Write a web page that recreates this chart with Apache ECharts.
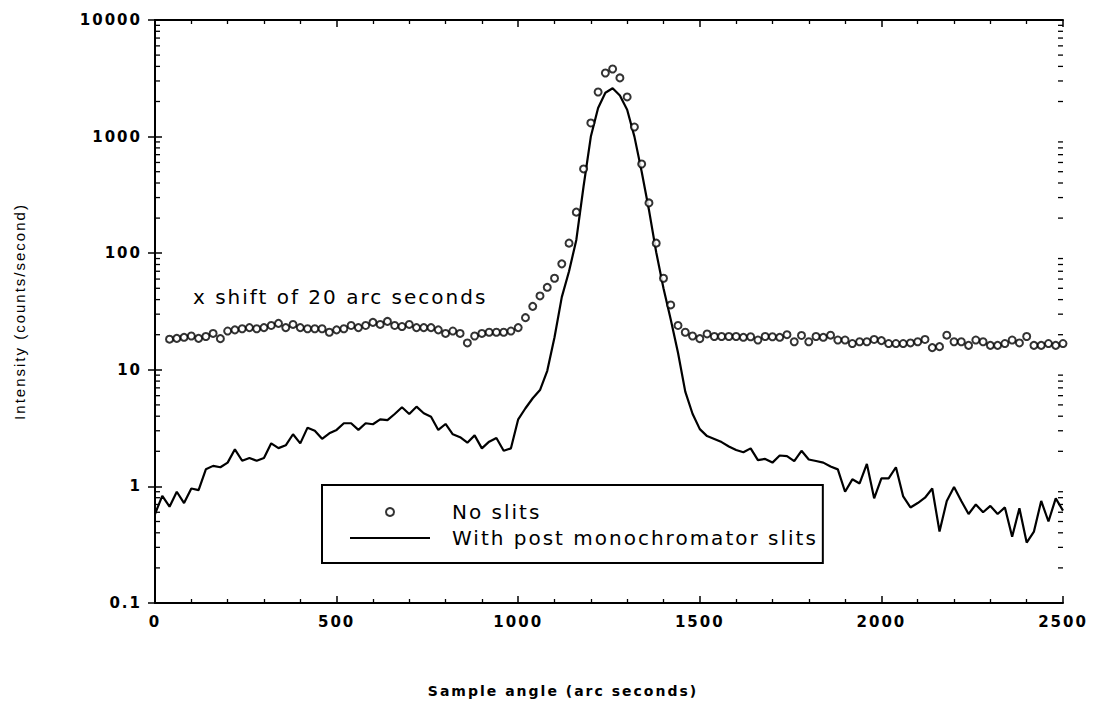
<!DOCTYPE html>
<html>
<head>
<meta charset="utf-8">
<title>Rocking curve with and without post monochromator slits</title>
<script src="https://cdn.jsdelivr.net/npm/echarts@6/dist/echarts.min.js"></script>
<style>
  html, body { margin: 0; padding: 0; background: #fff; }
  #chart { width: 1098px; height: 706px; }
  /* typewriter-style tracking for all chart text */
  #chart text { letter-spacing: 2px; }
</style>
</head>
<body>
<div id="chart"></div>
<script>
// Sample angles (arc seconds) for the open-beam scan (no slits)
const noSlitAngles = [
  40, 60, 80, 100, 120, 140, 160, 180, 200, 220, 240, 260, 280, 300, 320, 340, 360, 380, 400, 420,
  440, 460, 480, 500, 520, 540, 560, 580, 600, 620, 640, 660, 680, 700, 720, 740, 760, 780, 800, 820,
  840, 860, 880, 900, 920, 940, 960, 980, 1000, 1020, 1040, 1060, 1080, 1100, 1120, 1140, 1160, 1180, 1200, 1220,
  1240, 1260, 1280, 1300, 1320, 1340, 1360, 1380, 1400, 1420, 1440, 1460, 1480, 1500, 1520, 1540, 1560, 1580, 1600, 1620,
  1640, 1660, 1680, 1700, 1720, 1740, 1760, 1780, 1800, 1820, 1840, 1860, 1880, 1900, 1920, 1940, 1960, 1980, 2000, 2020,
  2040, 2060, 2080, 2100, 2120, 2140, 2160, 2180, 2200, 2220, 2240, 2260, 2280, 2300, 2320, 2340, 2360, 2380, 2400, 2420,
  2440, 2460, 2480, 2500
];
// Intensity (counts/second), no slits
const noSlitCounts = [
  18.3, 18.6, 19, 19.5, 18.6, 19.3, 20.5, 18.5, 21.5, 22, 22.5, 23, 22.5, 23, 24, 25, 23, 24.5, 23, 22.5,
  22.5, 22.5, 21, 22, 22.5, 24, 23, 24, 25.5, 24.5, 26, 24, 23.5, 24.5, 23, 23, 23, 22, 20.5, 21.5,
  20.5, 17, 19.5, 20.5, 21, 21, 21, 21.5, 23, 28, 35, 43, 51, 61, 81, 122, 225, 528, 1309, 2413,
  3510, 3800, 3186, 2188, 1208, 582, 270, 122, 61, 36, 24, 21, 19.5, 18.5, 20.3, 19.3, 19.3, 19.3, 19.3, 19,
  19.2, 18, 19.3, 19.2, 19, 20, 17.4, 19.7, 17.4, 19.3, 19, 19.8, 18, 18, 16.8, 17.4, 17.4, 18.2, 17.8, 16.8,
  16.8, 16.8, 17, 17.4, 18.2, 15.5, 15.8, 19.8, 17.4, 17.4, 16.2, 18, 17.4, 16.2, 16.2, 16.8, 18, 17, 19.3, 16.2,
  16.2, 16.8, 16.2, 16.8
];

// Sample angles (arc seconds) for the scan with post monochromator slits
const slitAngles = [
  0, 20, 40, 60, 80, 100, 120, 140, 160, 180, 200, 220, 240, 260, 280, 300, 320, 340, 360, 380,
  400, 420, 440, 460, 480, 500, 520, 540, 560, 580, 600, 620, 640, 660, 680, 700, 720, 740, 760, 780,
  800, 820, 840, 860, 880, 900, 920, 940, 960, 980, 1000, 1020, 1040, 1060, 1080, 1100, 1120, 1140, 1160, 1180,
  1200, 1220, 1240, 1260, 1280, 1300, 1320, 1340, 1360, 1380, 1400, 1420, 1440, 1460, 1480, 1500, 1520, 1540, 1560, 1580,
  1600, 1620, 1640, 1660, 1680, 1700, 1720, 1740, 1760, 1780, 1800, 1820, 1840, 1860, 1880, 1900, 1920, 1940, 1960, 1980,
  2000, 2020, 2040, 2060, 2080, 2100, 2120, 2140, 2160, 2180, 2200, 2220, 2240, 2260, 2280, 2300, 2320, 2340, 2360, 2380,
  2400, 2420, 2440, 2460, 2480, 2500
];
// Intensity (counts/second), with post monochromator slits
const slitCounts = [
  0.58, 0.83, 0.67, 0.9, 0.72, 0.96, 0.93, 1.4, 1.5, 1.46, 1.6, 2.08, 1.66, 1.75, 1.66, 1.75, 2.34, 2.13, 2.25, 2.8,
  2.34, 3.19, 3.0, 2.56, 2.85, 3.05, 3.48, 3.48, 3.05, 3.48, 3.41, 3.76, 3.7, 4.18, 4.77, 4.18, 4.83, 4.24, 3.96, 3.05,
  3.43, 2.8, 2.64, 2.37, 2.74, 2.12, 2.42, 2.6, 2.02, 2.12, 3.76, 4.68, 5.7, 6.7, 9.8, 19, 42, 70, 130, 375,
  1000, 1760, 2380, 2600, 2250, 1700, 1000, 500, 235, 102, 50, 27, 14, 6.5, 4.2, 3.1, 2.7, 2.55, 2.4, 2.2,
  2.05, 1.96, 2.12, 1.68, 1.72, 1.6, 1.84, 1.82, 1.65, 2.02, 1.7, 1.65, 1.6, 1.48, 1.4, 0.9, 1.15, 1.06, 1.56, 0.79,
  1.17, 1.17, 1.46, 0.82, 0.66, 0.72, 0.8, 0.96, 0.41, 0.75, 0.99, 0.75, 0.58, 0.7, 0.6, 0.68, 0.58, 0.66, 0.37, 0.65,
  0.33, 0.41, 0.75, 0.5, 0.79, 0.62
];

// Axis ranges and tick labels
const angleRange = [0, 2500];
const angleTickStep = 500;
const intensityRange = [0.1, 10000];
const intensityTickLabels = ['0.1', '1', '10', '100', '1000', '10000'];
const seriesNames = ['No slits', 'With post monochromator slits'];
const noteText = 'x shift of 20 arc seconds';

// Log-axis minor tick positions: 2..9 within each decade
const decades = [0.1, 1, 10, 100, 1000];
const minorMultipliers = [2, 3, 4, 5, 6, 7, 8, 9];
const logMinorTicks = [];
decades.forEach(d => minorMultipliers.forEach(m => logMinorTicks.push([1250, +(d * m).toPrecision(3)])));

const FONT = 'DejaVu Sans';
const chart = echarts.init(document.getElementById('chart'), null, { renderer: 'svg' });

const zip = (xs, ys) => xs.map((x, i) => [x, ys[i]]);

const xCommon = {
  type: 'value', min: angleRange[0], max: angleRange[1], interval: angleTickStep,
  axisLine: { show: true, lineStyle: { color: '#000', width: 2 } },
  axisTick: { show: true, inside: true, length: 7, lineStyle: { color: '#000', width: 1.5 } },
  minorTick: { show: true, splitNumber: 5, length: 4, lineStyle: { color: '#000', width: 1.3 } },
  splitLine: { show: false }, minorSplitLine: { show: false }
};
const yCommon = {
  type: 'log', logBase: 10, min: intensityRange[0], max: intensityRange[1],
  axisLine: { show: true, lineStyle: { color: '#000', width: 2 } },
  axisTick: { show: true, inside: true, length: 7, lineStyle: { color: '#000', width: 1.5 } },
  splitLine: { show: false }
};

chart.setOption({
  animation: false,
  backgroundColor: '#fff',
  grid: { left: 155, right: 35, top: 20, bottom: 103, containLabel: false },
  xAxis: [
    Object.assign({}, xCommon, {
      position: 'bottom',
      name: 'Sample angle (arc seconds)', nameLocation: 'middle', nameGap: 81,
      nameTextStyle: { fontFamily: FONT, fontSize: 14, fontWeight: 'bold', color: '#000', padding: [0, 92, 0, 0] },
      axisLabel: { fontFamily: FONT, fontSize: 15, fontWeight: 'bold', color: '#000', margin: 11, formatter: v => String(v) }
    }),
    Object.assign({}, xCommon, { position: 'top', axisLabel: { show: false } })
  ],
  yAxis: [
    Object.assign({}, yCommon, {
      position: 'left',
      name: 'Intensity (counts/second)', nameLocation: 'middle', nameGap: 128,
      nameTextStyle: { fontFamily: 'Liberation Sans', fontSize: 15, color: '#000' },
      axisLabel: {
        fontFamily: FONT, fontSize: 15, fontWeight: 'bold', color: '#000', margin: 13,
        formatter: v => intensityTickLabels.find(t => Math.abs(+t - v) < 1e-9 * Math.max(1, v)) || ''
      }
    }),
    Object.assign({}, yCommon, { position: 'right', axisLabel: { show: false } })
  ],
  legend: {
    orient: 'vertical', left: 322, top: 485,
    data: [seriesNames[0], { name: seriesNames[1], icon: 'path://M0,0M0,3H80V5H0ZM80,8' }],
    borderColor: '#000', borderWidth: 2, borderRadius: 0,
    padding: [14, 63, 12, 28],
    itemWidth: 80, itemHeight: 8, itemGap: 0,
    textStyle: { fontFamily: FONT, fontSize: 20, lineHeight: 26, color: '#000', padding: [0, 0, 0, 17] }
  },
  graphic: [{
    type: 'text', left: 193, top: 287,
    style: { text: noteText, font: '20px "DejaVu Sans"', fill: '#000' }
  }],
  series: [
    {
      name: seriesNames[0], type: 'scatter',
      data: zip(noSlitAngles, noSlitCounts),
      symbol: 'emptyCircle', symbolSize: 7, symbolKeepAspect: true,
      itemStyle: { color: '#000', borderColor: '#000', borderWidth: 2 },
      xAxisIndex: 0, yAxisIndex: 0, z: 3
    },
    {
      name: seriesNames[1], type: 'line',
      data: zip(slitAngles, slitCounts),
      showSymbol: false, symbol: 'none',
      lineStyle: { color: '#000', width: 2.2 },
      itemStyle: { color: '#000' },
      xAxisIndex: 0, yAxisIndex: 0, z: 2
    },
    {
      // minor ticks for the logarithmic intensity axes (left and right)
      type: 'custom', xAxisIndex: 0, yAxisIndex: 0, silent: true, clip: false, z: 5,
      data: logMinorTicks,
      renderItem: (params, api) => {
        const left = api.coord([angleRange[0], api.value(1)]);
        const right = api.coord([angleRange[1], api.value(1)]);
        const s = { stroke: '#000', lineWidth: 1.3 };
        return { type: 'group', children: [
          { type: 'line', shape: { x1: left[0], y1: left[1], x2: left[0] + 5, y2: left[1] }, style: s },
          { type: 'line', shape: { x1: right[0], y1: right[1], x2: right[0] - 5, y2: right[1] }, style: s }
        ] };
      }
    }
  ]
});
</script>
</body>
</html>
